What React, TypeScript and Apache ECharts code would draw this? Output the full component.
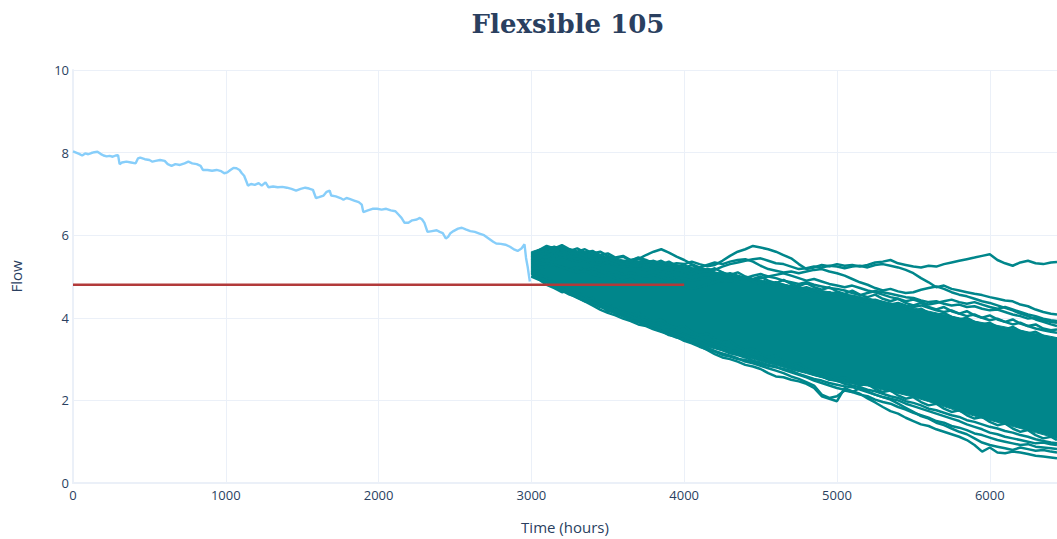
import React, { useEffect, useRef } from "react";
import * as echarts from "echarts";

// ---- Observed history (light blue) ----
const historyHours = [0, 20, 40, 60, 80, 100, 120, 140, 160, 180, 200, 220, 240, 260, 280, 295, 305, 320, 350, 380, 410, 425, 440, 470, 500, 520, 540, 570, 600, 620, 645, 670, 700, 730, 755, 780, 810, 835, 850, 880, 910, 940, 970, 990, 1010, 1030, 1050, 1070, 1090, 1105, 1120, 1135, 1145, 1165, 1190, 1215, 1235, 1260, 1280, 1310, 1340, 1370, 1400, 1430, 1460, 1490, 1520, 1545, 1570, 1590, 1610, 1640, 1660, 1680, 1690, 1720, 1750, 1770, 1790, 1810, 1840, 1870, 1890, 1900, 1930, 1960, 1990, 2020, 2050, 2080, 2110, 2130, 2150, 2170, 2195, 2220, 2250, 2270, 2285, 2300, 2320, 2350, 2380, 2400, 2420, 2440, 2455, 2470, 2490, 2520, 2545, 2570, 2600, 2630, 2660, 2690, 2720, 2750, 2770, 2800, 2830, 2860, 2890, 2910, 2935, 2955, 2965, 2975, 2985, 2990];
const historyFlow = [8.03, 8.0, 7.97, 7.93, 7.98, 7.96, 7.99, 8.01, 8.02, 7.97, 7.93, 7.91, 7.92, 7.9, 7.93, 7.94, 7.72, 7.76, 7.78, 7.76, 7.74, 7.86, 7.88, 7.84, 7.82, 7.78, 7.8, 7.82, 7.8, 7.72, 7.68, 7.72, 7.7, 7.74, 7.78, 7.74, 7.72, 7.68, 7.58, 7.58, 7.56, 7.58, 7.55, 7.5, 7.52, 7.58, 7.63, 7.62, 7.58, 7.5, 7.44, 7.3, 7.2, 7.24, 7.22, 7.26, 7.2, 7.28, 7.16, 7.18, 7.16, 7.17, 7.15, 7.12, 7.08, 7.12, 7.15, 7.13, 7.1, 6.9, 6.92, 6.96, 7.05, 7.08, 6.96, 6.94, 6.9, 6.86, 6.9, 6.88, 6.84, 6.8, 6.74, 6.56, 6.6, 6.64, 6.64, 6.62, 6.64, 6.6, 6.58, 6.5, 6.42, 6.3, 6.3, 6.36, 6.38, 6.42, 6.38, 6.3, 6.08, 6.1, 6.12, 6.08, 6.05, 5.92, 5.96, 6.05, 6.1, 6.16, 6.18, 6.14, 6.1, 6.08, 6.04, 6.0, 5.92, 5.84, 5.8, 5.79, 5.77, 5.72, 5.65, 5.62, 5.68, 5.78, 5.45, 5.25, 5.0, 4.88];

// ---- Threshold (red) ----
const thresholdHours = [0, 4000];
const thresholdFlow = [4.8, 4.8];

// ---- Dense core of simulations (envelope) ----
const coreHours = [3000, 3100, 3200, 3300, 3400, 3500, 3600, 3700, 3800, 3900, 4000, 4100, 4200, 4300, 4400, 4500, 4600, 4700, 4800, 4900, 5000, 5100, 5200, 5300, 5400, 5500, 5600, 5700, 5800, 5900, 6000, 6100, 6200, 6300, 6400, 6440];
const coreLow = [5.05, 4.85, 4.68, 4.5, 4.33, 4.18, 4.02, 3.88, 3.74, 3.6, 3.48, 3.35, 3.25, 3.15, 3.05, 2.95, 2.85, 2.75, 2.65, 2.55, 2.45, 2.4, 2.35, 2.25, 2.17, 2.08, 1.97, 1.85, 1.73, 1.62, 1.52, 1.42, 1.32, 1.22, 1.12, 1.08];
const coreHigh = [5.6, 5.72, 5.72, 5.62, 5.58, 5.48, 5.4, 5.38, 5.38, 5.32, 5.25, 5.18, 5.1, 5.05, 4.98, 4.92, 4.85, 4.78, 4.72, 4.66, 4.6, 4.55, 4.48, 4.4, 4.32, 4.24, 4.16, 4.08, 4.0, 3.92, 3.85, 3.78, 3.7, 3.62, 3.55, 3.52];

// ---- Individually visible simulation paths (teal) ----
const simHours = [
  3000, 3050, 3100, 3150, 3200, 3250, 3300, 3350, 3400, 3450,
  3500, 3550, 3600, 3650, 3700, 3750, 3800, 3850, 3900, 3950,
  4000, 4050, 4100, 4150, 4200, 4250, 4300, 4350, 4400, 4450,
  4500, 4550, 4600, 4650, 4700, 4750, 4800, 4850, 4900, 4950,
  5000, 5050, 5100, 5150, 5200, 5250, 5300, 5350, 5400, 5450,
  5500, 5550, 5600, 5650, 5700, 5750, 5800, 5850, 5900, 5950,
  6000, 6050, 6100, 6150, 6200, 6250, 6300, 6350, 6400, 6440,
];
const simTop1 = [
  5.45, 5.55, 5.62, 5.58, 5.66, 5.6, 5.52, 5.56, 5.48, 5.42,
  5.46, 5.38, 5.35, 5.4, 5.33, 5.36, 5.3, 5.34, 5.28, 5.32,
  5.3, 5.36, 5.3, 5.25, 5.28, 5.38, 5.5, 5.6, 5.66, 5.74,
  5.7, 5.66, 5.6, 5.52, 5.44, 5.3, 5.18, 5.22, 5.28, 5.25,
  5.3, 5.26, 5.28, 5.24, 5.28, 5.34, 5.36, 5.4, 5.32, 5.28,
  5.24, 5.22, 5.26, 5.24, 5.3, 5.34, 5.38, 5.42, 5.46, 5.5,
  5.54, 5.4, 5.32, 5.26, 5.34, 5.38, 5.32, 5.3, 5.34, 5.35,
];
const simTop2 = [
  5.3, 5.38, 5.45, 5.4, 5.48, 5.42, 5.36, 5.4, 5.32, 5.28,
  5.34, 5.26, 5.22, 5.28, 5.2, 5.15, 5.2, 5.12, 5.08, 5.14,
  5.1, 5.06, 5.12, 5.18, 5.16, 5.24, 5.3, 5.34, 5.38, 5.42,
  5.44, 5.38, 5.32, 5.3, 5.24, 5.18, 5.2, 5.24, 5.22, 5.26,
  5.24, 5.2, 5.24, 5.26, 5.22, 5.28, 5.3, 5.26, 5.22, 5.16,
  5.08, 4.96, 4.86, 4.74, 4.78, 4.7, 4.66, 4.62, 4.58, 4.55,
  4.5, 4.46, 4.42, 4.4, 4.32, 4.28, 4.2, 4.14, 4.1, 4.08,
];
const simTop3 = [
  5.35, 5.44, 5.5, 5.58, 5.52, 5.46, 5.5, 5.42, 5.38, 5.44,
  5.36, 5.3, 5.34, 5.28, 5.24, 5.3, 5.24, 5.18, 5.22, 5.16,
  5.12, 5.18, 5.22, 5.28, 5.34, 5.3, 5.36, 5.4, 5.42, 5.36,
  5.26, 5.18, 5.14, 5.1, 5.12, 5.08, 5.12, 5.16, 5.18, 5.12,
  5.08, 5.02, 4.94, 4.86, 4.8, 4.72, 4.66, 4.7, 4.64, 4.6,
  4.62, 4.68, 4.72, 4.76, 4.7, 4.62, 4.56, 4.52, 4.46, 4.4,
  4.36, 4.3, 4.24, 4.18, 4.1, 4.04, 3.96, 3.9, 3.84, 3.8,
];
const simTop4 = [
  5.2, 5.28, 5.32, 5.26, 5.24, 5.18, 5.22, 5.16, 5.2, 5.12,
  5.08, 5.12, 5.05, 5.09, 5.04, 5.0, 5.04, 4.98, 4.94, 4.98,
  4.95, 4.9, 4.94, 4.98, 4.92, 4.88, 4.94, 5.0, 4.96, 5.02,
  5.06, 5.0, 4.96, 4.9, 4.86, 4.82, 4.86, 4.8, 4.76, 4.72,
  4.7, 4.66, 4.6, 4.55, 4.6, 4.65, 4.62, 4.58, 4.54, 4.5,
  4.48, 4.42, 4.38, 4.4, 4.34, 4.3, 4.32, 4.26, 4.28, 4.22,
  4.18, 4.2, 4.14, 4.08, 4.04, 3.98, 4.0, 3.94, 3.9, 3.88,
];
const simTop5 = [
  5.25, 5.18, 5.24, 5.3, 5.22, 5.16, 5.1, 5.14, 5.06, 5.0,
  5.04, 4.96, 4.9, 4.94, 4.86, 4.82, 4.88, 4.84, 4.78, 4.82,
  4.76, 4.7, 4.74, 4.8, 4.86, 4.92, 4.88, 4.94, 4.98, 4.92,
  4.86, 4.82, 4.86, 4.8, 4.74, 4.7, 4.74, 4.68, 4.62, 4.58,
  4.62, 4.56, 4.5, 4.46, 4.4, 4.44, 4.38, 4.32, 4.36, 4.3,
  4.26, 4.3, 4.24, 4.18, 4.14, 4.18, 4.1, 4.04, 4.08, 4.0,
  3.94, 3.98, 3.9, 3.84, 3.88, 3.8, 3.74, 3.7, 3.66, 3.64,
];
const simTop6 = [
  5.5, 5.58, 5.66, 5.72, 5.64, 5.56, 5.58, 5.5, 5.44, 5.38,
  5.42, 5.36, 5.3, 5.36, 5.42, 5.52, 5.6, 5.66, 5.58, 5.48,
  5.4, 5.3, 5.22, 5.16, 5.1, 5.04, 5.08, 5.02, 4.96, 4.92,
  4.96, 5.0, 5.04, 5.08, 5.02, 4.96, 4.9, 4.94, 4.88, 4.82,
  4.78, 4.74, 4.78, 4.72, 4.66, 4.62, 4.56, 4.5, 4.46, 4.4,
  4.44, 4.38, 4.32, 4.36, 4.4, 4.44, 4.38, 4.34, 4.38, 4.32,
  4.26, 4.22, 4.26, 4.2, 4.14, 4.08, 4.04, 3.98, 3.94, 3.92,
];
const simMidA = [
  5.4, 5.52, 5.46, 5.6, 5.7, 5.62, 5.68, 5.58, 5.62, 5.52,
  5.56, 5.46, 5.5, 5.4, 5.44, 5.34, 5.38, 5.3, 5.36, 5.26,
  5.2, 5.28, 5.18, 5.12, 5.2, 5.1, 5.04, 5.1, 5.0, 4.94,
  5.0, 4.9, 4.84, 4.92, 4.82, 4.76, 4.84, 4.74, 4.68, 4.74,
  4.64, 4.58, 4.66, 4.56, 4.5, 4.56, 4.46, 4.4, 4.46, 4.36,
  4.3, 4.36, 4.26, 4.2, 4.26, 4.16, 4.1, 4.16, 4.06, 4.0,
  4.06, 3.96, 3.9, 3.96, 3.86, 3.8, 3.84, 3.74, 3.7, 3.72,
];
const simMidB = [
  5.55, 5.64, 5.74, 5.68, 5.76, 5.66, 5.6, 5.66, 5.56, 5.6,
  5.5, 5.44, 5.48, 5.38, 5.46, 5.4, 5.32, 5.38, 5.28, 5.22,
  5.28, 5.18, 5.1, 5.14, 5.04, 5.1, 5.0, 4.92, 4.98, 4.88,
  4.82, 4.88, 4.78, 4.72, 4.78, 4.68, 4.62, 4.68, 4.58, 4.62,
  4.52, 4.46, 4.52, 4.42, 4.36, 4.42, 4.32, 4.26, 4.32, 4.22,
  4.16, 4.22, 4.12, 4.06, 4.12, 4.02, 3.96, 4.0, 3.9, 3.84,
  3.88, 3.78, 3.72, 3.78, 3.68, 3.62, 3.66, 3.56, 3.5, 3.48,
];
const simMidC = [
  5.0, 4.92, 4.8, 4.72, 4.62, 4.66, 4.52, 4.44, 4.48, 4.34,
  4.26, 4.3, 4.16, 4.08, 4.12, 3.98, 3.92, 3.96, 3.82, 3.76,
  3.8, 3.66, 3.58, 3.62, 3.48, 3.4, 3.44, 3.3, 3.22, 3.26,
  3.12, 3.04, 3.08, 2.94, 2.86, 2.9, 2.76, 2.68, 2.72, 2.6,
  2.52, 2.56, 2.44, 2.36, 2.4, 2.28, 2.2, 2.24, 2.12, 2.04,
  2.08, 1.96, 1.88, 1.92, 1.8, 1.72, 1.76, 1.64, 1.56, 1.6,
  1.48, 1.4, 1.44, 1.32, 1.24, 1.28, 1.16, 1.08, 1.12, 1.04,
];
const simMidD = [
  5.08, 5.0, 4.94, 4.82, 4.76, 4.64, 4.58, 4.5, 4.42, 4.38,
  4.3, 4.2, 4.14, 4.1, 4.0, 3.94, 3.86, 3.82, 3.72, 3.68,
  3.6, 3.54, 3.5, 3.4, 3.36, 3.3, 3.22, 3.18, 3.1, 3.06,
  3.0, 2.92, 2.9, 2.84, 2.78, 2.72, 2.7, 2.62, 2.58, 2.5,
  2.48, 2.4, 2.36, 2.32, 2.26, 2.22, 2.16, 2.1, 2.06, 1.98,
  1.94, 1.88, 1.8, 1.76, 1.7, 1.64, 1.6, 1.52, 1.48, 1.42,
  1.36, 1.32, 1.26, 1.22, 1.16, 1.12, 1.06, 1.02, 0.98, 0.96,
];
const simLow1 = [
  5.1, 5.0, 4.88, 4.8, 4.7, 4.58, 4.48, 4.4, 4.3, 4.2,
  4.12, 4.06, 3.98, 3.92, 3.84, 3.8, 3.72, 3.66, 3.6, 3.52,
  3.48, 3.4, 3.32, 3.22, 3.12, 3.04, 3.0, 2.94, 2.86, 2.82,
  2.76, 2.66, 2.58, 2.56, 2.5, 2.46, 2.4, 2.3, 2.1, 2.04,
  1.98, 2.3, 2.22, 2.16, 2.05, 1.95, 1.84, 1.74, 1.68, 1.58,
  1.5, 1.42, 1.38, 1.3, 1.24, 1.18, 1.12, 1.04, 0.92, 0.76,
  0.86, 0.74, 0.72, 0.76, 0.74, 0.7, 0.66, 0.64, 0.62, 0.6,
];
const simLow2 = [
  5.15, 5.05, 4.96, 4.86, 4.8, 4.68, 4.6, 4.52, 4.4, 4.3,
  4.16, 4.14, 4.08, 4.0, 3.92, 3.86, 3.78, 3.7, 3.64, 3.58,
  3.54, 3.46, 3.36, 3.28, 3.2, 3.14, 3.08, 3.02, 2.94, 2.9,
  2.84, 2.78, 2.72, 2.66, 2.58, 2.52, 2.44, 2.36, 2.14, 2.06,
  2.1, 2.24, 2.2, 2.3, 2.22, 2.14, 2.08, 2.02, 1.92, 1.82,
  1.72, 1.62, 1.56, 1.46, 1.4, 1.32, 1.24, 1.18, 1.08, 0.98,
  0.92, 0.88, 0.84, 0.8, 0.86, 0.82, 0.78, 0.8, 0.76, 0.74,
];
const simLow3 = [
  5.02, 4.94, 4.86, 4.74, 4.66, 4.56, 4.5, 4.4, 4.36, 4.26,
  4.22, 4.1, 4.04, 3.94, 3.9, 3.82, 3.74, 3.68, 3.58, 3.54,
  3.44, 3.38, 3.3, 3.24, 3.18, 3.1, 3.06, 3.0, 2.98, 2.92,
  2.88, 2.84, 2.8, 2.76, 2.72, 2.64, 2.58, 2.52, 2.48, 2.42,
  2.38, 2.34, 2.32, 2.26, 2.2, 2.14, 2.08, 2.04, 2.0, 1.92,
  1.86, 1.8, 1.74, 1.68, 1.62, 1.56, 1.5, 1.42, 1.36, 1.3,
  1.22, 1.18, 1.12, 1.08, 1.04, 1.0, 0.96, 0.98, 0.94, 0.92,
];
const simLow4 = [
  5.08, 4.98, 4.9, 4.84, 4.72, 4.62, 4.54, 4.46, 4.38, 4.32,
  4.24, 4.16, 4.12, 4.04, 3.96, 3.88, 3.82, 3.76, 3.68, 3.62,
  3.56, 3.48, 3.42, 3.34, 3.28, 3.22, 3.14, 3.1, 3.04, 2.96,
  2.92, 2.86, 2.82, 2.74, 2.68, 2.62, 2.56, 2.48, 2.42, 2.36,
  2.3, 2.26, 2.2, 2.14, 2.1, 2.02, 1.96, 1.92, 1.84, 1.78,
  1.7, 1.64, 1.58, 1.5, 1.46, 1.38, 1.34, 1.28, 1.2, 1.16,
  1.1, 1.04, 1.0, 0.96, 0.92, 0.94, 0.88, 0.86, 0.84, 0.82,
];
const simPaths = [simTop1, simTop2, simTop3, simTop4, simTop5, simTop6, simMidA, simMidB, simMidC, simMidD, simLow1, simLow2, simLow3, simLow4];

const xTicks = [0, 1000, 2000, 3000, 4000, 5000, 6000];
const yTicks = [0, 2, 4, 6, 8, 10];

const TEAL = "#00868b";
const BLUE = "#87cefa";
const RED = "#b23a3a";
const INK = "#2a3f5f";
const GRID = "#ebf0f8";

export default function App() {
  const ref = useRef<HTMLDivElement>(null);
  useEffect(() => {
    document.body.style.margin = "0";
    if (!ref.current) return;
    const chart = echarts.init(ref.current, undefined, { renderer: "svg" });
    const series: any[] = [];
    series.push({
      name: "history",
      type: "line",
      data: historyHours.map((h, i) => [h, historyFlow[i]]),
      showSymbol: false,
      lineStyle: { color: BLUE, width: 2.4 },
      itemStyle: { color: BLUE },
    });
    series.push({
      name: "core",
      type: "custom",
      data: [[coreHours[0], coreLow[0]]],
      silent: true,
      clip: true,
      renderItem: (_params: any, api: any) => {
        const upper = coreHours.map((h, i) => api.coord([h, coreHigh[i]]));
        const lower: number[][] = [];
        for (let i = coreHours.length - 1; i >= 0; i--) lower.push(api.coord([coreHours[i], coreLow[i]]));
        return {
          type: "polygon",
          shape: { points: upper.concat(lower) },
          style: { fill: TEAL, stroke: TEAL, lineWidth: 1 },
        };
      },
    });
    simPaths.forEach((p, k) => {
      series.push({
        name: "sim" + k,
        type: "line",
        data: simHours.map((h, i) => [h, p[i]]),
        showSymbol: false,
        lineStyle: { color: TEAL, width: 2.5 },
        itemStyle: { color: TEAL },
      });
    });
    series.push({
      name: "threshold",
      type: "line",
      data: thresholdHours.map((h, i) => [h, thresholdFlow[i]]),
      showSymbol: false,
      lineStyle: { color: RED, width: 2.5 },
      itemStyle: { color: RED },
    });

    chart.setOption({
      animation: false,
      title: {
        text: "Flexsible 105",
        left: 563,
        top: 6,
        textAlign: "center",
        textStyle: { fontFamily: "DejaVu Serif", fontSize: 26, fontWeight: "bold", color: INK },
      },
      grid: { left: 73, right: 0, top: 70, bottom: 54, containLabel: false },
      xAxis: {
        type: "value",
        min: 0,
        max: 6440,
        interval: 1000,
        name: "Time (hours)",
        nameLocation: "middle",
        nameGap: 36,
        nameTextStyle: { fontFamily: "Open Sans", fontSize: 15, color: INK },
        axisLine: { show: true, lineStyle: { color: GRID, width: 2 } },
        axisTick: { show: false },
        splitLine: { show: true, lineStyle: { color: GRID, width: 1 } },
        axisLabel: {
          fontFamily: "Open Sans",
          fontSize: 13,
          color: INK,
          margin: 5,
          showMaxLabel: false,
          formatter: (v: number) => (xTicks.includes(v) ? String(v) : ""),
        },
      },
      yAxis: {
        type: "value",
        min: 0,
        max: 10,
        interval: 2,
        name: "Flow",
        nameLocation: "middle",
        nameGap: 50,
        nameTextStyle: { fontFamily: "Open Sans", fontSize: 15, color: INK },
        axisLine: { show: true, lineStyle: { color: GRID, width: 2 } },
        axisTick: { show: false },
        splitLine: { show: true, lineStyle: { color: GRID, width: 1 } },
        axisLabel: {
          fontFamily: "Open Sans",
          fontSize: 13,
          color: INK,
          margin: 4,
          formatter: (v: number) => (yTicks.includes(v) ? String(v) : ""),
        },
      },
      series,
    });
    return () => chart.dispose();
  }, []);
  return <div ref={ref} style={{ width: 1057, height: 539 }} />;
}
